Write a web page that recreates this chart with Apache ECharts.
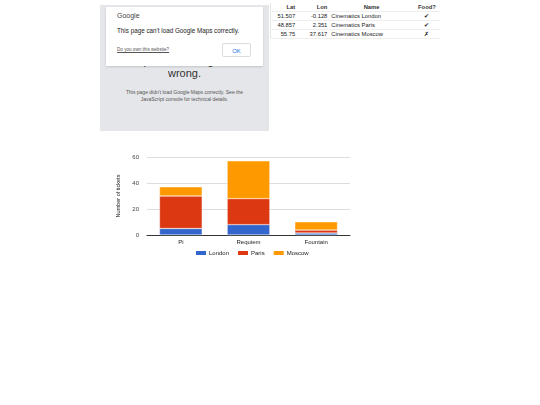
<!DOCTYPE html>
<html><head><meta charset="utf-8">
<script src="https://cdn.jsdelivr.net/npm/echarts@6/dist/echarts.min.js"></script>
<style>
html,body{margin:0;padding:0;width:540px;height:405px;background:#fff;font-family:Arial,"Liberation Sans",sans-serif;overflow:hidden;position:relative}
#map{position:absolute;left:100px;top:5px;width:169px;height:126px;background:#e5e6e9;overflow:hidden}
#map .big{position:absolute;left:0;width:169px;text-align:center;font-size:11px;color:#333}
#map .small{position:absolute;left:22px;width:125px;top:84px;text-align:center;font-size:5px;line-height:6.5px;color:#555}
#dlg{position:absolute;left:106px;top:7px;width:157px;height:59px;background:#fff;box-shadow:0 1px 2px rgba(0,0,0,0.15)}
#dlg .g{position:absolute;left:11px;top:5px;font-size:7px;color:#444}
#dlg .m{position:absolute;left:11px;top:20px;font-size:6.3px;color:#222;white-space:nowrap}
#dlg .q{position:absolute;left:11px;top:40px;font-size:4.6px;color:#555;text-decoration:underline;white-space:nowrap}
#dlg .ok{position:absolute;left:116px;top:36px;width:29px;height:14px;border:1px solid #dadce0;border-radius:2px;text-align:center;line-height:14px;font-size:6px;color:#1a73e8;box-sizing:border-box}
#tbl{position:absolute;left:270px;top:3px;width:170px;border-collapse:collapse;font-size:5.8px;color:#222;border-left:1px solid #e5e5e5}
#tbl td,#tbl th{height:8px;padding:0 2px;border-bottom:1px solid #eee;white-space:nowrap;line-height:8px}
#tbl th{font-weight:bold;color:#333}
#chart{position:absolute;left:0;top:0;width:540px;height:405px}
</style></head>
<body>
<div id="map">
  <div class="big" style="top:50px">Oops! Something went</div>
  <div class="big" style="top:62px">wrong.</div>
  <div class="small">This page didn't load Google Maps correctly. See the JavaScript console for technical details.</div>
</div>
<div id="dlg">
  <div class="g">Google</div>
  <div class="m">This page can't load Google Maps correctly.</div>
  <div class="q">Do you own this website?</div>
  <div class="ok">OK</div>
</div>
<table id="tbl"></table>
<div id="chart"></div>
<script>
// table data
var tableHeaders = ['Lat', 'Lon', 'Name', 'Food?'];
var lats = ['51.507', '48.857', '55.75'];
var lons = ['-0.128', '2.351', '37.617'];
var names = ['Cinematics London', 'Cinematics Paris', 'Cinematics Moscow'];
var food = ['✔', '✔', '✗'];

// chart data
var categories = ['Pi', 'Requiem', 'Fountain'];
var seriesNames = ['London', 'Paris', 'Moscow'];
var london = [5, 8, 1.5];
var paris = [25, 20, 2.3];
var moscow = [7, 29, 6.3];
var yTicks = [0, 20, 40, 60];
var yTitle = 'Number of tickets';

(function(){
  var t = document.getElementById('tbl');
  var h = '<tr>' +
    '<th style="text-align:right;width:22px">' + tableHeaders[0] + '</th>' +
    '<th style="text-align:right;width:28px">' + tableHeaders[1] + '</th>' +
    '<th style="text-align:center;width:80px">' + tableHeaders[2] + '</th>' +
    '<th style="text-align:center;width:22px">' + tableHeaders[3] + '</th></tr>';
  for (var i = 0; i < lats.length; i++) {
    h += '<tr><td style="text-align:right">' + lats[i] + '</td><td style="text-align:right">' + lons[i] +
      '</td><td style="text-align:left">' + names[i] + '</td><td style="text-align:center">' + food[i] + '</td></tr>';
  }
  t.innerHTML = h;
})();

var colors = ['#3366cc', '#dc3912', '#ff9900'];
var vals = [london, paris, moscow];
var chart = echarts.init(document.getElementById('chart'), null, {renderer: 'canvas'});
chart.setOption({
  animation: false,
  textStyle: {fontFamily: 'Arial, "Liberation Sans", sans-serif'},
  grid: {left: 147, right: 190, top: 157, bottom: 170},
  legend: {
    top: 244, left: 189, itemWidth: 12, itemHeight: 6, itemGap: 7,
    textStyle: {fontSize: 6, color: '#222', padding: [0, 0, 0, -3]},
    icon: 'rect',
    data: seriesNames
  },
  xAxis: {
    type: 'category', data: categories,
    axisTick: {show: false},
    axisLine: {show: true, lineStyle: {color: '#333', width: 1}},
    axisLabel: {fontSize: 6, color: '#222', margin: 4}
  },
  yAxis: {
    type: 'value', min: yTicks[0], max: yTicks[yTicks.length - 1], interval: 20,
    name: yTitle, nameLocation: 'middle', nameGap: 26, nameRotate: 90,
    nameTextStyle: {fontSize: 5.5, color: '#222'},
    axisLine: {show: false}, axisTick: {show: false},
    axisLabel: {fontSize: 6, color: '#444', margin: 8},
    splitLine: {lineStyle: {color: '#ddd', width: 1}}
  },
  series: seriesNames.map(function(n, i){
    return {
      name: n, type: 'bar', stack: 'total', data: vals[i],
      barWidth: '63%',
      itemStyle: {color: colors[i], borderColor: '#fff', borderWidth: 0.4}
    };
  })
});
</script>
</body></html>
